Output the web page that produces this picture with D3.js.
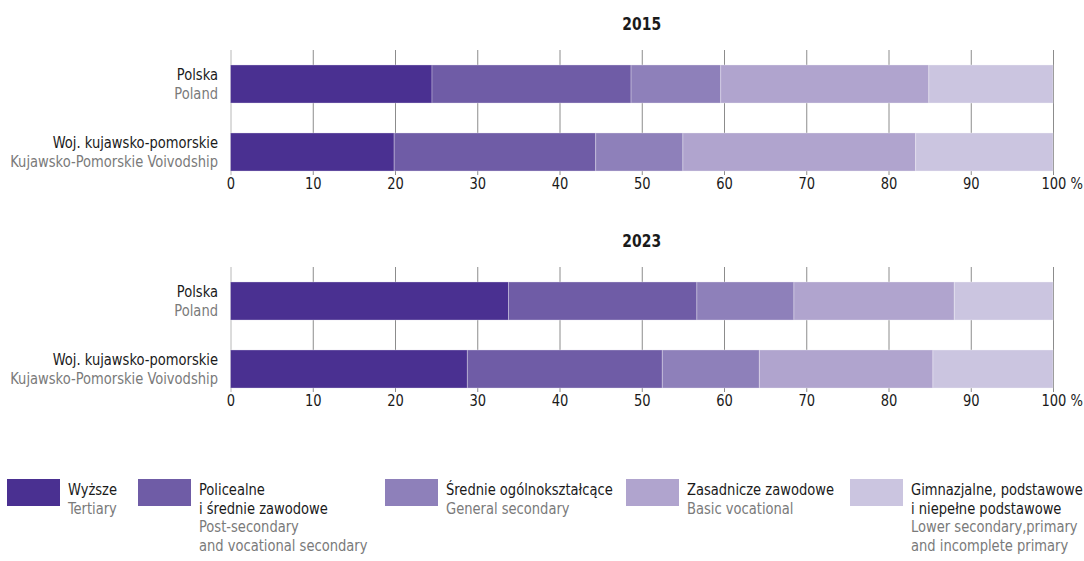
<!DOCTYPE html>
<html>
<head>
<meta charset="utf-8">
<script src="https://cdn.jsdelivr.net/npm/d3@7"></script>
<style>
  html, body { margin: 0; padding: 0; background: #fff; }
  svg { display: block; font-family: "DejaVu Sans Condensed", "DejaVu Sans", sans-serif; font-stretch: condensed; }
</style>
</head>
<body>
<svg id="chart" width="1084" height="561"></svg>
<script>
// ---- data ----
const years = ["2015", "2023"];
const categories = ["Polska", "Woj. kujawsko-pomorskie"];
const categoriesEn = ["Poland", "Kujawsko-Pomorskie Voivodship"];
const seriesPl = [
  ["Wyższe"],
  ["Policealne", "i średnie zawodowe"],
  ["Średnie ogólnokształcące"],
  ["Zasadnicze zawodowe"],
  ["Gimnazjalne, podstawowe", "i niepełne podstawowe"]
];
const seriesEn = [
  ["Tertiary"],
  ["Post-secondary", "and vocational secondary"],
  ["General secondary"],
  ["Basic vocational"],
  ["Lower secondary,primary", "and incomplete primary"]
];
const values2015 = [
  [24.5, 24.2, 10.9, 25.3, 15.1],
  [19.9, 24.5, 10.6, 28.3, 16.7]
];
const values2023 = [
  [33.8, 22.9, 11.8, 19.5, 12.0],
  [28.8, 23.7, 11.8, 21.1, 14.6]
];
const tickValues = [0, 10, 20, 30, 40, 50, 60, 70, 80, 90, 100];
const colors = ["#4a3091", "#6f5ca6", "#8e80ba", "#b0a4ce", "#cbc5e0"];

// ---- drawing ----
const svg = d3.select("#chart");
const x = d3.scaleLinear().domain([0, 100]).range([230.5, 1053]);
const color = d3.scaleOrdinal().domain(d3.range(5)).range(colors);

// condensed look: fixed size, horizontal squeeze fitted so the longest row label spans ~208px
const FS = 16;
const probe = svg.append("text").attr("font-size", FS).text(categoriesEn[1]);
const pw = probe.node().getComputedTextLength();
probe.remove();
const SX = Math.max(0.75, Math.min(1, 208 / pw));

function addText(parent, px, py, str, opts = {}) {
  return parent.append("text")
    .attr("x", px / SX).attr("y", py)
    .attr("transform", `scale(${SX},1)`)
    .attr("text-anchor", opts.anchor || "start")
    .attr("font-size", opts.size || FS)
    .attr("font-weight", opts.weight || null)
    .attr("fill", opts.fill || "#1a1a1a")
    .text(str);
}

const panels = [
  { year: years[0], values: values2015, top: 50 },
  { year: years[1], values: values2023, top: 267 }
];

panels.forEach(p => {
  const g = svg.append("g");
  const gridBottom = p.top + 125;
  const y = d3.scaleBand().domain(categories)
    .range([p.top, p.top + 136]).paddingInner(0.44).paddingOuter(0.22);

  // title
  addText(g, (x.range()[0] + x.range()[1]) / 2, p.top - 20, p.year,
    { anchor: "middle", weight: "bold", size: FS + 1 });

  // gridlines + axis
  const axis = g.append("g")
    .attr("transform", `translate(0,${gridBottom})`)
    .call(d3.axisBottom(x).tickValues(tickValues)
      .tickSize(-(gridBottom - p.top)).tickPadding(3)
      .tickFormat(d => d));
  axis.attr("font-family", null).attr("font-size", null);
  axis.select(".domain").remove();
  axis.selectAll(".tick line")
    .attr("stroke", d => d === 0 ? "#b8b8b8" : "#8c8c8c")
    .attr("stroke-width", 1);
  axis.selectAll(".tick text")
    .attr("font-size", FS)
    .attr("fill", "#1a1a1a")
    .attr("transform", `scale(${SX},1)`);
  axis.selectAll(".tick text").filter(d => d === 100).each(function() {
    const t = d3.select(this);
    const w = this.getComputedTextLength();
    t.attr("text-anchor", "start").attr("x", -w / 2 + 0.5).text("100 %");
  });

  // bars
  p.values.forEach((row, i) => {
    let acc = 0;
    const segs = row.map((v, k) => { const s = { k, x0: acc, x1: acc + v }; acc += v; return s; });
    g.append("g").selectAll("rect").data(segs).join("rect")
      .attr("x", d => x(d.x0))
      .attr("width", d => x(d.x1) - x(d.x0))
      .attr("y", y(categories[i]))
      .attr("height", y.bandwidth())
      .attr("fill", d => color(d.k))
      .attr("stroke", "rgba(255,255,255,0.3)")
      .attr("stroke-width", 1);

    const cy = y(categories[i]) + y.bandwidth() / 2;
    addText(g, 218, cy - 4, categories[i], { anchor: "end" });
    addText(g, 218, cy + 15, categoriesEn[i], { anchor: "end", fill: "#7a7a7a" });
  });
});

// legend
const legX = [7, 138, 385, 626, 850];
const legend = svg.append("g");
seriesPl.forEach((pl, k) => {
  const lg = legend.append("g").attr("transform", `translate(${legX[k]},479)`);
  lg.append("rect").attr("width", 53).attr("height", 27).attr("fill", color(k));
  const lines = pl.map(t => ({ t, c: "#1a1a1a" })).concat(seriesEn[k].map(t => ({ t, c: "#7a7a7a" })));
  lines.forEach((l, j) => {
    addText(lg, 61, 16 + j * 18.7, l.t, { fill: l.c });
  });
});
</script>
</body>
</html>
